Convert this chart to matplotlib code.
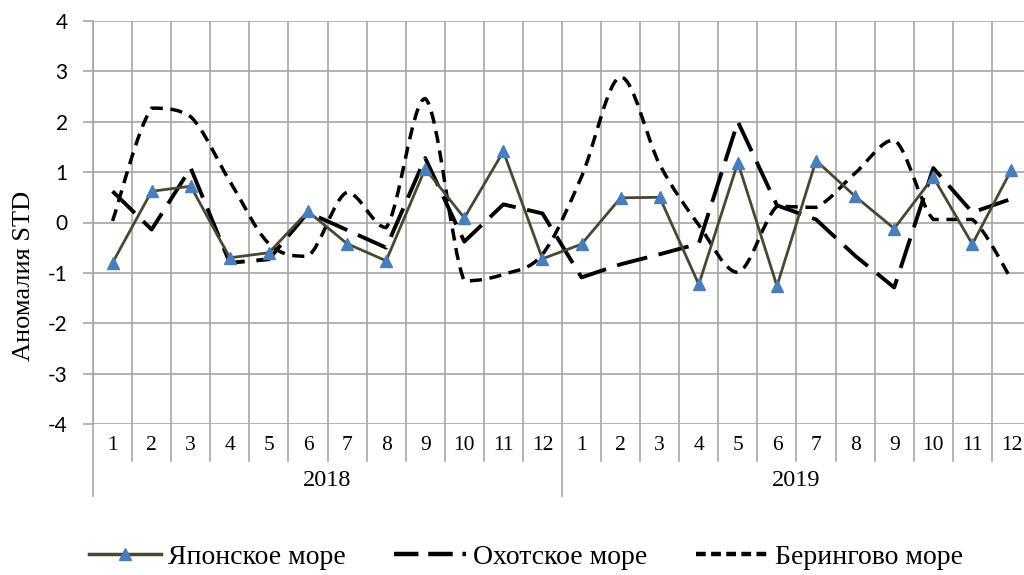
import numpy as np
import matplotlib
matplotlib.use("Agg")
import matplotlib.pyplot as plt
from matplotlib.path import Path
from matplotlib.patches import PathPatch
from matplotlib.lines import Line2D
import matplotlib.transforms as mtransforms

plt.rcParams['font.family'] = ['Liberation Serif', 'DejaVu Serif']

months = [str(m) for m in range(1, 13)] * 2
years = ["2018", "2019"]
japan = [-0.80, 0.62, 0.72, -0.70, -0.60, 0.22, -0.42, -0.76, 1.07, 0.09, 1.41, -0.72,
         -0.43, 0.49, 0.50, -1.23, 1.19, -1.26, 1.23, 0.52, -0.12, 0.90, -0.43, 1.05]
okhotsk = [0.62, -0.14, 1.08, -0.80, -0.73, 0.20, -0.15, -0.50, 1.28, -0.38, 0.36, 0.18,
           -1.09, -0.83, -0.63, -0.42, 2.00, 0.34, 0.06, -0.66, -1.29, 1.08, 0.20, 0.47]
bering = [0.03, 2.27, 2.10, 0.82, -0.42, -0.67, 0.60, -0.10, 2.46, -1.16, -1.03, -0.63,
          0.91, 2.89, 1.15, -0.05, -0.99, 0.32, 0.30, 0.98, 1.64, 0.06, 0.06, -1.13]

W, H = 1024, 575
fig = plt.figure(figsize=(W / 100, H / 100), dpi=100)
ax = fig.add_axes([93 / W, (H - 424) / H, 938 / W, (424 - 21) / H])

x = np.arange(len(months))
ax.set_xlim(-0.5, len(months) - 0.5)
ax.set_ylim(-4, 4)
ax.set_yticks(range(-4, 5))
ax.set_yticklabels([str(v) for v in range(-4, 5)], family=['Lato', 'DejaVu Sans'])
ax.set_xticks([])

grid_c = '#a6a6a6'
for v in range(-4, 5):
    ax.axhline(v, color=grid_c, lw=1.2, zorder=0)
for b in np.arange(-0.5, len(months), 1.0):
    ax.axvline(b, color=grid_c, lw=1.2, zorder=0)
for s in ['top', 'right', 'bottom']:
    ax.spines[s].set_visible(False)
ax.spines['left'].set_color(grid_c)
ax.spines['left'].set_linewidth(1.2)
ax.tick_params(axis='y', length=7.2, color=grid_c, width=1.2, labelsize=15, pad=11)
fig.text(24 / W, 1 - 276 / H, 'Аномалия STD', rotation=90, ha='center', va='center',
         fontsize=19)

# Japan sea
ax.plot(x, japan, color='#4b4630', lw=2.0, marker='^', markersize=9,
        markerfacecolor='#4a7ebb', markeredgecolor='#4a7ebb', zorder=4)
# Okhotsk sea
ax.plot(x, okhotsk, color='black', lw=2.8, dashes=(8, 3), zorder=3)

# Bering sea - smoothed Bezier through the points (control points kept within neighbours)
pts = np.column_stack([x, bering]).astype(float)
verts = [pts[0]]
codes = [Path.MOVETO]
n = len(pts)
for i in range(n - 1):
    p0 = pts[i - 1] if i > 0 else pts[i]
    p1 = pts[i]
    p2 = pts[i + 1]
    p3 = pts[i + 2] if i + 2 < n else pts[i + 1]
    c1 = p1 + (p2 - p0) / 6.0
    c2 = p2 - (p3 - p1) / 6.0
    lo, hi = min(p1[1], p2[1]), max(p1[1], p2[1])
    c1[1] = np.clip(c1[1], lo, hi)
    c2[1] = np.clip(c2[1], lo, hi)
    verts += [c1, c2, p2]
    codes += [Path.CURVE4] * 3
patch = PathPatch(Path(verts, codes), facecolor='none', edgecolor='black',
                  lw=2.5, linestyle=(0, (3.5, 2.2)), zorder=3, capstyle='butt')
ax.add_patch(patch)

# Multi-level category axis
trans = mtransforms.blended_transform_factory(ax.transData, ax.transAxes)
ax_h = 424 - 21
def ay(py):
    return -(py - 424) / ax_h
for b in np.arange(-0.5, len(months), 1.0):
    top = ay(461)
    if b in (-0.5, 11.5, 23.5):
        top = ay(496)
    ax.plot([b, b], [0, top], color=grid_c, lw=1.2, transform=trans, clip_on=False)
for i, m in enumerate(months):
    ax.text(i, ay(446), m, transform=trans, ha='center', va='center', fontsize=15.5)
for j, yr in enumerate(years):
    ax.text(j * 12 + 5.5, ay(480), yr, transform=trans, ha='center', va='center', fontsize=17.5)

handles = [
    Line2D([], [], color='#4b4630', lw=2.5, marker='^', markersize=9,
           markerfacecolor='#4a7ebb', markeredgecolor='#4a7ebb'),
    Line2D([], [], color='black', lw=3.2, dashes=(5.5, 2.2)),
    Line2D([], [], color='black', lw=3.2, dashes=(2.2, 1.2)),
]
fig.legend(handles, ['Японское море', 'Охотское море', 'Берингово море'],
           loc='center', bbox_to_anchor=(526 / W, (H - 557) / H), ncol=3,
           frameon=False, fontsize=20, handlelength=2.6, columnspacing=1.75,
           handletextpad=0.25, borderpad=0.2)

fig.savefig('out.png', dpi=100)
